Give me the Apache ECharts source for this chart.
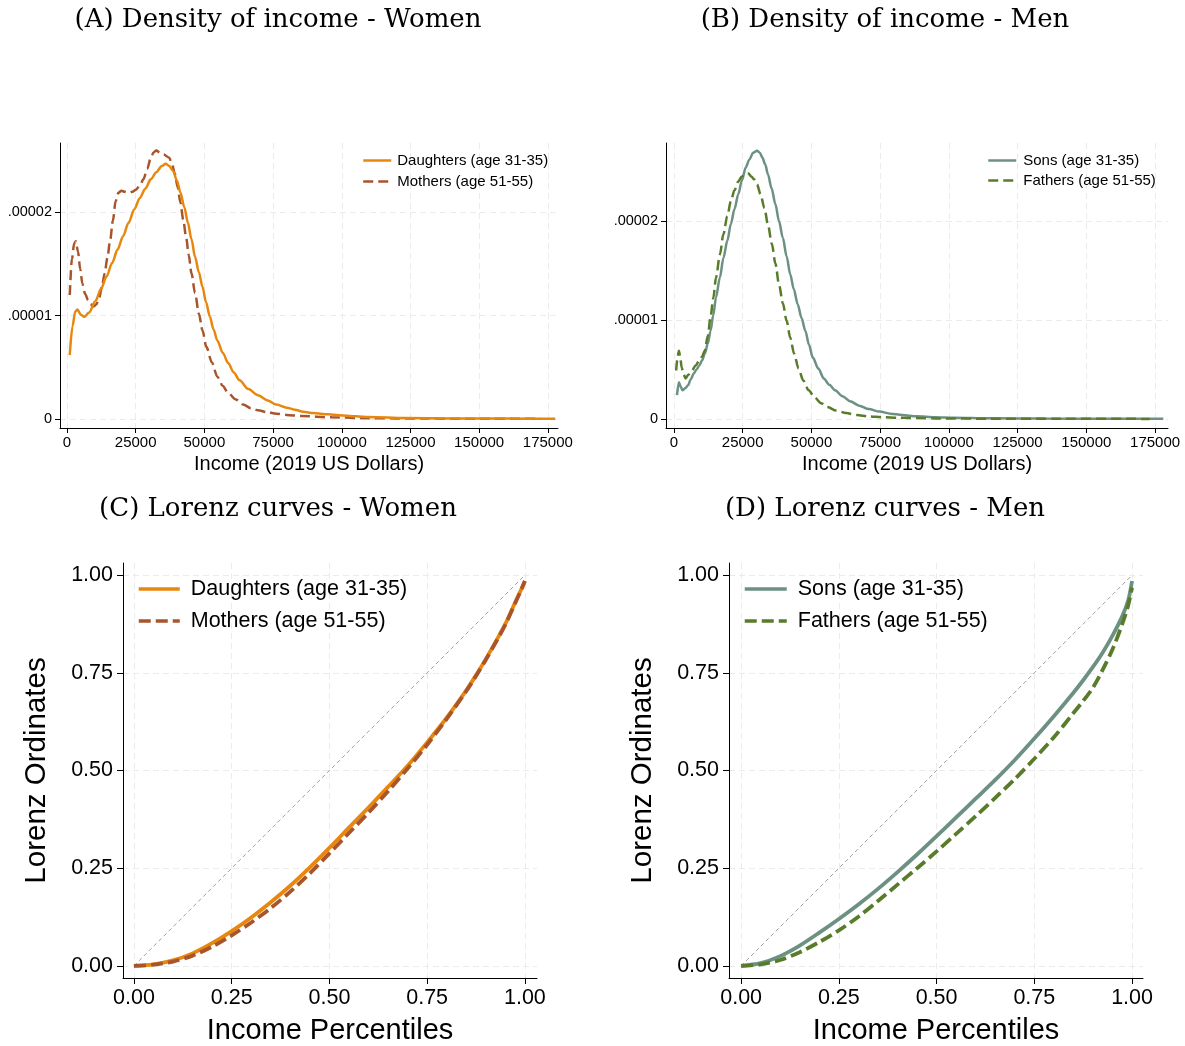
<!DOCTYPE html>
<html>
<head>
<meta charset="utf-8">
<script src="https://cdn.jsdelivr.net/npm/echarts@6/dist/echarts.min.js"></script>
<style>
html,body{margin:0;padding:0;background:#fff;}
#chart{width:1185px;height:1046px;}
</style>
</head>
<body>
<div id="chart"></div>
<script>
// ---------- tick values & labels ----------
const densityXTicks = [0, 25000, 50000, 75000, 100000, 125000, 150000, 175000];
const densityXTickLabels = ['0', '25000', '50000', '75000', '100000', '125000', '150000', '175000'];
// density values are in units of 0.00001
const densityYTicks = [0, 1, 2];
const densityYTickLabels = ['0', '.00001', '.00002'];
const lorenzTicks = [0, 0.25, 0.5, 0.75, 1];
const lorenzTickLabels = ['0.00', '0.25', '0.50', '0.75', '1.00'];

// ---------- panel titles / names ----------
const panelTitles = ['(A) Density of income - Women', '(B) Density of income - Men',
                     '(C) Lorenz curves - Women', '(D) Lorenz curves - Men'];
const womenNames = ['Daughters (age 31-35)', 'Mothers (age 51-55)'];
const menNames = ['Sons (age 31-35)', 'Fathers (age 51-55)'];

// ---------- (A) density, women ----------
const daughtersIncome = [1000,2000,3000,3800,5000,6300,8000,10300,12400,14400,16400,18400,20400,22400,24500,26500,28500,30500,32500,34500,35900,37200,38600,40000,41300,42700,44000,45300,46600,48000,49300,50600,52000,53300,54700,56700,58700,60700,62800,66000,69500,73000,76200,80000,82900,86000,89600,95000,99000,105000,110000,123000,140000,160000,177700];
const daughtersDensity = [0.62,0.90,1.04,1.06,1.01,0.99,1.03,1.14,1.26,1.38,1.51,1.64,1.77,1.90,2.03,2.14,2.23,2.32,2.39,2.45,2.47,2.45,2.40,2.31,2.19,2.05,1.90,1.74,1.57,1.42,1.28,1.13,0.99,0.87,0.76,0.64,0.54,0.45,0.375,0.29,0.23,0.18,0.14,0.11,0.09,0.07,0.058,0.045,0.036,0.026,0.02,0.01,0.006,0.004,0.003];
const mothersIncome = [1000,1800,2600,3200,4000,4800,5600,6600,7700,8700,9700,10700,11700,12700,13700,14700,15700,16700,17700,18700,19800,21000,22400,23800,25100,26500,27800,29200,30500,31500,32500,33800,35200,37200,38200,39200,40300,41300,42300,43300,44300,45300,46600,48000,49300,50700,52700,54700,56700,58700,61400,64100,67000,69500,73000,76200,80000,85000,96400,110000,130000,150000,172300];
const mothersDensity = [1.20,1.55,1.70,1.72,1.62,1.45,1.31,1.21,1.15,1.11,1.09,1.11,1.17,1.28,1.41,1.56,1.73,1.92,2.11,2.19,2.21,2.20,2.19,2.20,2.22,2.26,2.32,2.42,2.53,2.58,2.60,2.58,2.56,2.53,2.47,2.38,2.24,2.09,1.93,1.77,1.59,1.41,1.22,1.02,0.86,0.70,0.55,0.41,0.32,0.25,0.19,0.14,0.105,0.084,0.065,0.052,0.04,0.029,0.016,0.008,0.004,0.003,0.002];

// ---------- (B) density, men ----------
const sonsIncome = [1100,1800,2400,3100,4100,5100,6100,7200,8200,9200,10200,11200,12300,13300,14300,15300,16700,18000,19400,20700,22000,23400,24700,26100,27400,28800,30200,31200,32200,33200,34200,35500,36900,38200,39600,41000,42300,43600,45000,46400,47800,49100,50500,52500,54500,56500,58600,61300,64000,67400,70800,74800,78800,83000,88300,95000,101800,115000,135000,155000,178000];
const sonsDensity = [0.24,0.37,0.33,0.29,0.31,0.34,0.40,0.46,0.50,0.54,0.59,0.66,0.76,0.89,1.05,1.23,1.43,1.63,1.80,1.97,2.12,2.27,2.41,2.54,2.62,2.69,2.71,2.69,2.64,2.57,2.47,2.33,2.17,2.00,1.83,1.64,1.46,1.31,1.16,1.02,0.89,0.75,0.62,0.51,0.41,0.345,0.29,0.23,0.18,0.135,0.10,0.075,0.054,0.04,0.027,0.018,0.013,0.007,0.004,0.003,0.002];
const fathersIncome = [800,1300,1800,2300,2800,3500,4200,5300,6500,7900,9200,10200,11200,12300,13300,14300,15300,16700,18000,19400,20700,22000,23400,24700,26100,27100,28100,29200,30200,31500,32900,34200,35600,36900,38200,39600,41000,42300,43700,45300,47000,49000,51100,53500,55900,59000,62600,66500,70800,76000,81600,95000,115000,140000,173000];
const fathersDensity = [0.49,0.62,0.69,0.62,0.52,0.45,0.41,0.45,0.49,0.54,0.59,0.63,0.69,0.84,1.03,1.22,1.43,1.66,1.87,2.05,2.20,2.31,2.40,2.45,2.48,2.48,2.45,2.42,2.37,2.27,2.13,1.96,1.77,1.57,1.36,1.17,0.99,0.82,0.66,0.51,0.39,0.29,0.22,0.16,0.12,0.085,0.06,0.04,0.027,0.018,0.013,0.006,0.003,0.002,0.001];

// ---------- (C)/(D) Lorenz curves ----------
const percentiles = [0,0.05,0.1,0.15,0.2,0.25,0.3,0.35,0.4,0.45,0.5,0.55,0.6,0.65,0.7,0.75,0.8,0.85,0.875,0.9,0.925,0.95,0.975,0.99,1.0];
const daughtersLorenz = [0,0.004,0.014,0.032,0.058,0.089,0.124,0.163,0.205,0.252,0.302,0.354,0.405,0.458,0.512,0.572,0.635,0.705,0.744,0.785,0.829,0.875,0.930,0.962,0.985];
const mothersLorenz = [0,0.003,0.011,0.026,0.049,0.078,0.111,0.148,0.190,0.237,0.288,0.340,0.392,0.447,0.505,0.566,0.632,0.703,0.742,0.783,0.827,0.873,0.928,0.961,0.985];
const sonsLorenz = [0,0.007,0.025,0.052,0.085,0.120,0.157,0.197,0.240,0.285,0.332,0.380,0.428,0.476,0.527,0.582,0.639,0.699,0.731,0.765,0.802,0.845,0.895,0.935,0.985];
const fathersLorenz = [0,0.004,0.015,0.035,0.061,0.091,0.126,0.166,0.208,0.250,0.293,0.338,0.383,0.430,0.478,0.530,0.585,0.647,0.678,0.712,0.758,0.810,0.875,0.922,0.968];
const equalityX = [0, 1];
const equalityY = [0, 1];

// ---------- styling ----------
const SANS = 'Liberation Sans';
const SERIF = 'DejaVu Serif';
const C_DAUGHTER = '#e8870e';
const C_MOTHER = '#a9552c';
const C_SON = '#6c9182';
const C_FATHER = '#587c2a';

function zip(xs, ys) { return xs.map((x, i) => [x, ys[i]]); }

function axis(opt) {
  return {
    type: 'value',
    gridIndex: opt.grid,
    min: opt.min, max: opt.max,
    name: opt.name || '',
    nameLocation: 'middle',
    nameGap: opt.nameGap || 0,
    nameTextStyle: { fontFamily: SANS, fontSize: opt.nameSize || 12, color: '#000' },
    axisLine: { show: true, onZero: false, lineStyle: { color: '#000', width: 1 } },
    axisTick: { show: true, customValues: opt.ticks, length: opt.tickLen, lineStyle: { color: '#000', width: 1 } },
    axisLabel: {
      customValues: opt.ticks,
      formatter: function (v) { const i = opt.ticks.findIndex(t => Math.abs(t - v) < 1e-9); return i >= 0 ? opt.labels[i] : ''; },
      fontFamily: SANS, fontSize: opt.fontSize, color: '#000', margin: opt.margin
    },
    splitLine: { show: true, lineStyle: { color: '#ebebeb', width: 1, type: [6, 4] } }
  };
}

function title(text, x, y) {
  return { type: 'text', x: x, y: y, style: { text: text, align: 'center', verticalAlign: 'middle', fontFamily: SERIF, fontSize: 26, fill: '#000' } };
}

function legend(names, left, top, w, h, gap, lw, fs, pad) {
  return {
    data: names, orient: 'vertical', left: left, top: top, padding: 0,
    itemWidth: w, itemHeight: h, itemGap: gap,
    itemStyle: { opacity: 0 },
    lineStyle: { width: lw },
    textStyle: { fontFamily: SANS, fontSize: fs, color: '#000', padding: [0, 0, 0, pad] }
  };
}

const chart = echarts.init(document.getElementById('chart'), null, { renderer: 'canvas' });

const gridBase = { outerBoundsMode: 'none', containLabel: false };

const option = {
  animation: false,
  backgroundColor: '#fff',
  graphic: [
    title(panelTitles[0], 278, 20),
    title(panelTitles[1], 885, 20),
    title(panelTitles[2], 278, 509),
    title(panelTitles[3], 885, 509)
  ],
  grid: [
    Object.assign({ left: 60, top: 143, width: 498, height: 285 }, gridBase),
    Object.assign({ left: 666, top: 143, width: 502, height: 285 }, gridBase),
    Object.assign({ left: 123, top: 563, width: 414, height: 415 }, gridBase),
    Object.assign({ left: 729, top: 563, width: 414, height: 415 }, gridBase)
  ],
  xAxis: [
    axis({ grid: 0, min: -2550, max: 178700, ticks: densityXTicks, labels: densityXTickLabels, fontSize: 15, margin: 7, tickLen: 5, name: 'Income (2019 US Dollars)', nameGap: 26, nameSize: 20 }),
    axis({ grid: 1, min: -2900, max: 179700, ticks: densityXTicks, labels: densityXTickLabels, fontSize: 15, margin: 7, tickLen: 5, name: 'Income (2019 US Dollars)', nameGap: 26, nameSize: 20 }),
    axis({ grid: 2, min: -0.028, max: 1.031, ticks: lorenzTicks, labels: lorenzTickLabels, fontSize: 21.5, margin: 9, tickLen: 6, name: 'Income Percentiles', nameGap: 38, nameSize: 29 }),
    axis({ grid: 3, min: -0.031, max: 1.028, ticks: lorenzTicks, labels: lorenzTickLabels, fontSize: 21.5, margin: 9, tickLen: 6, name: 'Income Percentiles', nameGap: 38, nameSize: 29 })
  ],
  yAxis: [
    axis({ grid: 0, min: -0.087, max: 2.672, ticks: densityYTicks, labels: densityYTickLabels, fontSize: 14.5, margin: 8, tickLen: 5 }),
    axis({ grid: 1, min: -0.091, max: 2.788, ticks: densityYTicks, labels: densityYTickLabels, fontSize: 14.5, margin: 8, tickLen: 5 }),
    axis({ grid: 2, min: -0.031, max: 1.031, ticks: lorenzTicks, labels: lorenzTickLabels, fontSize: 21.5, margin: 10, tickLen: 6, name: 'Lorenz Ordinates', nameGap: 71, nameSize: 29.5 }),
    axis({ grid: 3, min: -0.031, max: 1.031, ticks: lorenzTicks, labels: lorenzTickLabels, fontSize: 21.5, margin: 10, tickLen: 6, name: 'Lorenz Ordinates', nameGap: 71, nameSize: 29.5 })
  ],
  legend: [
    legend(womenNames, 362, 153, 28, 14, 6, 2.5, 15, 1),
    legend(menNames, 987, 153, 28, 14, 5, 2.5, 15, 2),
    legend(womenNames.map(n => n + ' '), 137, 578, 41, 20, 10, 3.5, 21.5, 6),
    legend(menNames.map(n => n + ' '), 743, 578, 42, 20, 10, 3.5, 21.5, 6)
  ],
  series: [
    { name: womenNames[0], type: 'line', xAxisIndex: 0, yAxisIndex: 0, data: zip(daughtersIncome, daughtersDensity), symbol: 'none', smooth: 0.3, smoothMonotone: 'x',
      lineStyle: { color: C_DAUGHTER, width: 2.5 }, itemStyle: { color: C_DAUGHTER }, z: 3 },
    { name: womenNames[1], type: 'line', xAxisIndex: 0, yAxisIndex: 0, data: zip(mothersIncome, mothersDensity), symbol: 'none', smooth: 0.3, smoothMonotone: 'x',
      lineStyle: { color: C_MOTHER, width: 2.5, type: [10, 5] }, itemStyle: { color: C_MOTHER }, z: 2 },
    { name: menNames[0], type: 'line', xAxisIndex: 1, yAxisIndex: 1, data: zip(sonsIncome, sonsDensity), symbol: 'none', smooth: 0.3, smoothMonotone: 'x',
      lineStyle: { color: C_SON, width: 2.5 }, itemStyle: { color: C_SON }, z: 2 },
    { name: menNames[1], type: 'line', xAxisIndex: 1, yAxisIndex: 1, data: zip(fathersIncome, fathersDensity), symbol: 'none', smooth: 0.3, smoothMonotone: 'x',
      lineStyle: { color: C_FATHER, width: 2.5, type: [10, 5] }, itemStyle: { color: C_FATHER }, z: 3 },

    { name: 'equalityW', type: 'line', xAxisIndex: 2, yAxisIndex: 2, data: zip(equalityX, equalityY), symbol: 'none',
      lineStyle: { color: '#a0a0a0', width: 1, type: [4, 3] }, z: 1 },
    { name: womenNames[0] + ' ', type: 'line', xAxisIndex: 2, yAxisIndex: 2, data: zip(percentiles, daughtersLorenz), symbol: 'none', smooth: 0.3,
      lineStyle: { color: C_DAUGHTER, width: 3.8 }, itemStyle: { color: C_DAUGHTER }, z: 2 },
    { name: womenNames[1] + ' ', type: 'line', xAxisIndex: 2, yAxisIndex: 2, data: zip(percentiles, mothersLorenz), symbol: 'none', smooth: 0.3,
      lineStyle: { color: C_MOTHER, width: 3.8, type: [12, 5] }, itemStyle: { color: C_MOTHER }, z: 3 },

    { name: 'equalityM', type: 'line', xAxisIndex: 3, yAxisIndex: 3, data: zip(equalityX, equalityY), symbol: 'none',
      lineStyle: { color: '#a0a0a0', width: 1, type: [4, 3] }, z: 1 },
    { name: menNames[0] + ' ', type: 'line', xAxisIndex: 3, yAxisIndex: 3, data: zip(percentiles, sonsLorenz), symbol: 'none', smooth: 0.3,
      lineStyle: { color: C_SON, width: 3.8 }, itemStyle: { color: C_SON }, z: 2 },
    { name: menNames[1] + ' ', type: 'line', xAxisIndex: 3, yAxisIndex: 3, data: zip(percentiles, fathersLorenz), symbol: 'none', smooth: 0.3,
      lineStyle: { color: C_FATHER, width: 3.8, type: [12, 5] }, itemStyle: { color: C_FATHER }, z: 3 }
  ]
};

chart.setOption(option);
</script>
</body>
</html>
